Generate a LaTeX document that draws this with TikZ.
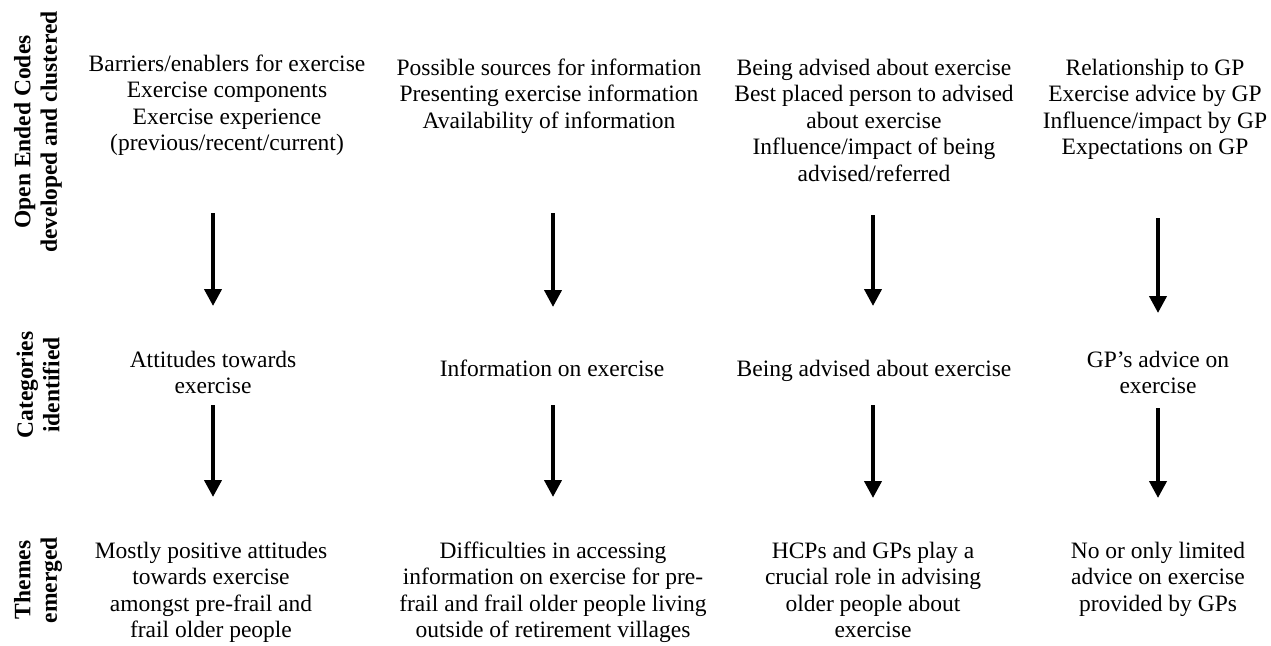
\documentclass[tikz,border=0pt]{standalone}
\usepackage{fontspec}
\setmainfont{Liberation Serif}
\usetikzlibrary{arrows.meta}
\begin{document}
\begin{tikzpicture}[x=1pt,y=-1pt,
  % text blocks are placed by the baseline of their last line
  txt/.style={align=center,anchor=base,inner sep=0pt,
    font=\fontsize{23.5}{26.5}\selectfont},
  rowlab/.style={align=center,anchor=center,inner sep=0pt,rotate=90,
    font=\fontsize{23.5}{26.5}\selectfont\bfseries},
  flow/.style={line width=4pt,-{Triangle[length=17pt,width=17pt]}}]
\useasboundingbox (0,0) rectangle (1271,645);

% row labels
\node[rowlab] (lab1) at (38,132) {Open Ended Codes\\developed and clustered};
\node[rowlab] (lab2) at (38,385) {Categories\\identified};
\node[rowlab] (lab3) at (38,580) {Themes\\emerged};

% open ended codes
\node[txt] (top1) at (227,150.5) {Barriers/enablers for exercise\\Exercise components\\Exercise experience\\(previous/recent/current)};
\node[txt] (top2) at (549,128) {Possible sources for information\\Presenting exercise information\\Availability of information};
\node[txt] (top3) at (874,181) {Being advised about exercise\\Best placed person to advised\\about exercise\\Influence/impact of being\\advised/referred};
\node[txt] (top4) at (1155,154.5) {Relationship to GP\\Exercise advice by GP\\Influence/impact by GP\\Expectations on GP};

% categories
\node[txt] (cat1) at (213,393.5) {Attitudes towards\\exercise};
\node[txt] (cat2) at (552,376) {Information on exercise};
\node[txt] (cat3) at (874,376) {Being advised about exercise};
\node[txt] (cat4) at (1158,393.5) {GP’s advice on\\exercise};

% themes
\node[txt] (th1) at (211,637.5) {Mostly positive attitudes\\towards exercise\\amongst pre-frail and\\frail older people};
\node[txt] (th2) at (553,637.5) {Difficulties in accessing\\information on exercise for pre-\\frail and frail older people living\\outside of retirement villages};
\node[txt] (th3) at (873,637.5) {HCPs and GPs play a\\crucial role in advising\\older people about\\exercise};
\node[txt] (th4) at (1158,611) {No or only limited\\advice on exercise\\provided by GPs};

% arrow ends
\coordinate (a1s) at (213,213); \coordinate (a1e) at (213,306);
\coordinate (a2s) at (553,213); \coordinate (a2e) at (553,307);
\coordinate (a3s) at (873,215); \coordinate (a3e) at (873,306);
\coordinate (a4s) at (1158,218); \coordinate (a4e) at (1158,313);
\coordinate (b1s) at (213,405); \coordinate (b1e) at (213,497);
\coordinate (b2s) at (553,405); \coordinate (b2e) at (553,497);
\coordinate (b3s) at (873,405); \coordinate (b3e) at (873,498);
\coordinate (b4s) at (1158,408); \coordinate (b4e) at (1158,498);

\foreach \p in {a1,a2,a3,a4,b1,b2,b3,b4}
  \draw[flow] (\p s) -- (\p e);
\end{tikzpicture}
\end{document}
